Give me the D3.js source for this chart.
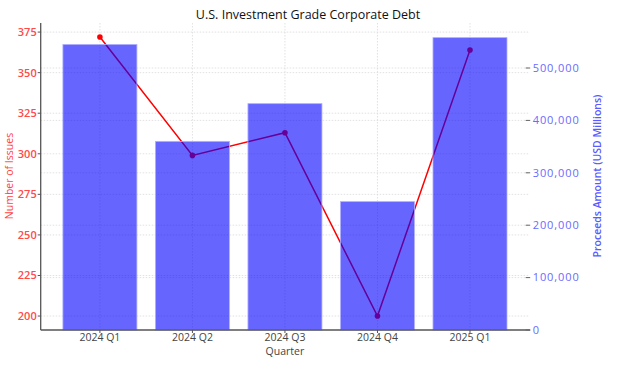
<!DOCTYPE html>
<html><head><meta charset="utf-8">
<script src="https://cdn.jsdelivr.net/npm/d3@7"></script>
<style>body{margin:0;background:#fff}svg{display:block}text{font-family:"Open Sans",sans-serif}</style>
</head><body><svg id="c" width="619" height="365"></svg>
<script>
const quarters = ["2024 Q1","2024 Q2","2024 Q3","2024 Q4","2025 Q1"];
const issues = [372, 299, 313, 200, 364];
const proceeds = [545000, 360000, 432000, 245000, 558000];
const issueTicks = [200,225,250,275,300,325,350,375];
const proceedTicks = [0,100000,200000,300000,400000,500000];

const svg = d3.select("#c");
const L = 40.7, R = 529.2, T = 23, B = 330;

const xi = d3.scaleLinear().domain([-0.64, quarters.length - 1 + 0.64]).range([L, R]);
const step = xi(1) - xi(0);
const bw = 0.8 * step;
const xc = i => xi(i);
const imin = d3.min(issues), imax = d3.max(issues), ir = imax - imin;
const yL = d3.scaleLinear().domain([imin - 0.05*ir, imax + 0.05*ir]).range([B, T]);
const yR = d3.scaleLinear().domain([0, d3.max(proceeds)*1.05]).range([B, T]);

// grid
const g = svg.append("g").attr("stroke","#d9d9d9").attr("stroke-width",0.8).attr("stroke-dasharray","1.5,1.5");
issueTicks.forEach(t => g.append("line").attr("x1",L).attr("x2",R).attr("y1",yL(t)).attr("y2",yL(t)));
proceedTicks.filter(t=>t>0).forEach(t => g.append("line").attr("x1",L).attr("x2",R).attr("y1",yR(t)).attr("y2",yR(t)));
quarters.forEach((q,i) => g.append("line").attr("x1",xc(i)).attr("x2",xc(i)).attr("y1",T).attr("y2",B));

// line (behind bars)
const line = d3.line().x((d,i)=>xc(i)).y(d=>yL(d));
svg.append("path").datum(issues).attr("d",line).attr("fill","none").attr("stroke","#ff0000").attr("stroke-width",1.5);
svg.selectAll(".pt").data(issues).join("circle").attr("cx",(d,i)=>xc(i)).attr("cy",d=>yL(d)).attr("r",2.8).attr("fill","#ff0000");

// bars
svg.selectAll(".bar").data(proceeds).join("rect")
  .attr("x",(d,i)=>xc(i)-bw/2).attr("width",bw)
  .attr("y",d=>yR(d)).attr("height",d=>B-yR(d))
  .attr("fill","#0000ff").attr("fill-opacity",0.6)
  .attr("stroke","#b0b0ff").attr("stroke-width",0.8);

// axes lines
svg.append("line").attr("x1",L).attr("x2",L).attr("y1",T).attr("y2",B).attr("stroke","#555").attr("stroke-width",1.3);
svg.append("line").attr("x1",L).attr("x2",R+1).attr("y1",B).attr("y2",B).attr("stroke","#555").attr("stroke-width",1.3);

// left ticks
const lt = svg.append("g");
issueTicks.forEach(t => {
  lt.append("line").attr("x1",L-3).attr("x2",L).attr("y1",yL(t)).attr("y2",yL(t)).attr("stroke","#555");
  lt.append("text").attr("x",L-4).attr("y",yL(t)).attr("dy","0.35em").attr("text-anchor","end")
    .attr("font-size",11).attr("font-weight",600).attr("fill","#ff4a4a").text(t);
});
// right ticks
const fmt = d3.format(",");
proceedTicks.forEach(t => {
  svg.append("line").attr("x1",R-3.5).attr("x2",R+1).attr("y1",yR(t)).attr("y2",yR(t)).attr("stroke","#666");
  svg.append("text").attr("x",R+3.5).attr("y",yR(t)).attr("dy","0.35em").attr("text-anchor","start")
    .attr("font-size",11).attr("letter-spacing","0.9px").attr("fill","#6a6aff").text(fmt(t));
});
// x ticks
quarters.forEach((q,i) => {
  svg.append("line").attr("x1",xc(i)).attr("x2",xc(i)).attr("y1",B).attr("y2",B+3).attr("stroke","#555");
  svg.append("text").attr("x",xc(i)).attr("y",337.5).attr("dy","0.35em").attr("text-anchor","middle")
    .attr("font-size",10.5).attr("fill","#444").text(q);
});

svg.append("text").attr("x",(L+R)/2).attr("y",351.5).attr("dy","0.35em").attr("text-anchor","middle")
  .attr("font-size",10.5).attr("fill","#444").text("Quarter");
svg.append("text").attr("transform","translate(9,176) rotate(-90)").attr("dy","0.35em").attr("text-anchor","middle")
  .attr("font-size",10.5).attr("fill","#ff4545").text("Number of Issues");
svg.append("text").attr("transform","translate(597,176) rotate(-90)").attr("dy","0.35em").attr("text-anchor","middle")
  .attr("font-size",10.5).attr("font-weight",600).attr("fill","#5a5aff").text("Proceeds Amount (USD Millions)");
svg.append("text").attr("x",308).attr("y",15).attr("dy","0.35em").attr("text-anchor","middle")
  .attr("font-size",12.5).attr("fill","#111").text("U.S. Investment Grade Corporate Debt");
</script></body></html>
